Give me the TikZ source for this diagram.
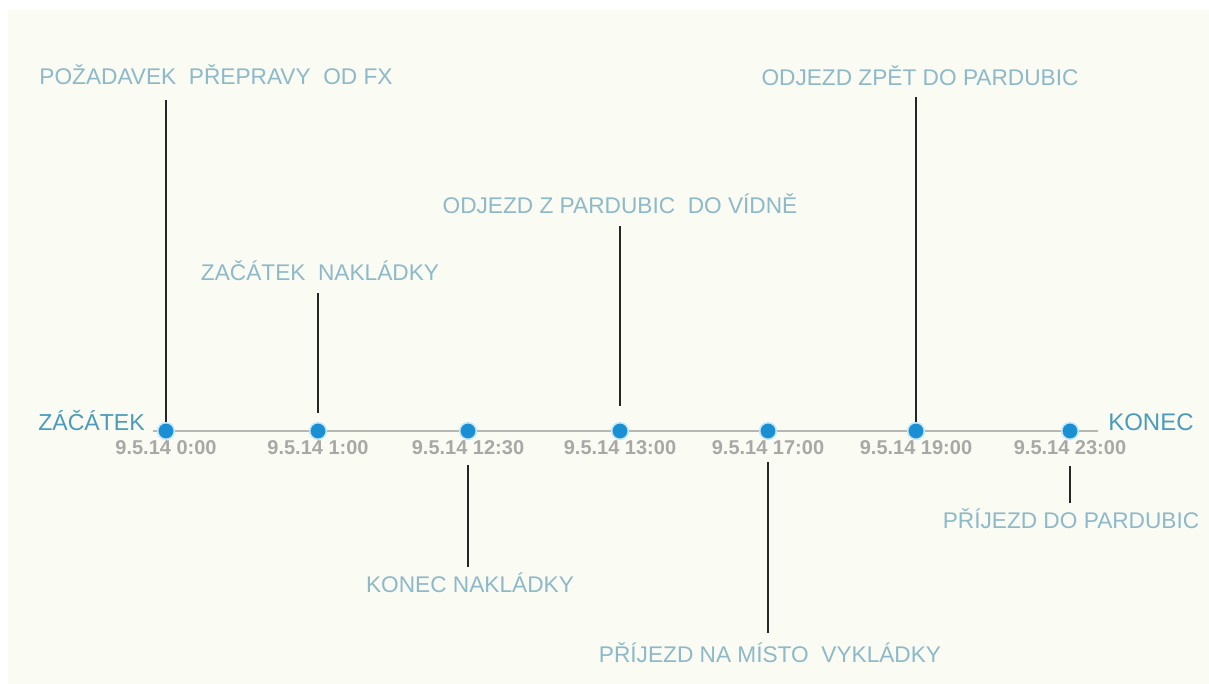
\documentclass[tikz,border=0pt]{standalone}
\usepackage{fontspec}
\setmainfont{Liberation Sans}
\definecolor{paper}{HTML}{FAFBF3}
\definecolor{labelblue}{HTML}{8DB9C8}
\definecolor{endblue}{HTML}{4A9CBA}
\definecolor{dotblue}{HTML}{1A8FD3}
\definecolor{halo}{HTML}{C4E8F8}
\definecolor{dategray}{HTML}{A8A8A6}
\definecolor{axisgray}{HTML}{B6B6B2}
\begin{document}
\begin{tikzpicture}[x=0.75pt,y=-0.75pt,
	event/.style={text=labelblue,font=\fontsize{17}{19}\selectfont,inner sep=0pt,anchor=base},
	datum/.style={text=dategray,font=\bfseries\fontsize{15}{17}\selectfont,inner sep=0pt,anchor=base},
	tick/.style={circle,fill=dotblue,draw=halo,line width=1.2pt,minimum size=12.5pt,inner sep=0pt},
	stem/.style={line width=1.6pt,black!85}]
	
	\useasboundingbox (0,0) rectangle (1209,684);
	\fill[white] (0,0) rectangle (1209,684);
	\fill[paper] (8,10) rectangle (1209,684);
	
	\coordinate (a) at (153,431);
	\coordinate (b) at (1098,431);
	\draw[axisgray,line width=1.5pt] (a) -- (b);
	
	\node[text=endblue,font=\fontsize{17.3}{20}\selectfont,inner sep=0pt,anchor=base east] (start) at (145,430) {ZÁČÁTEK};
	\node[text=endblue,font=\fontsize{18}{20}\selectfont,inner sep=0pt,anchor=base west] (end) at (1108,430) {KONEC};
	
	\foreach \i/\x/\t in {0/166/0:00,1/318/1:00,2/468/12:30,3/620/13:00,4/768/17:00,5/916/19:00,6/1070/23:00}
	{
		\node[tick] (t\i) at (\x,431) {};
		\node[datum] (d\i) at (\x,454) {9.5.14 \t};
	}
	
	% nad osou
	\node[event] (e0) at (216,85) {POŽADAVEK\ \ PŘEPRAVY\ \ OD FX};
	\node[event] (e1) at (320,281) {ZAČÁTEK\ \ NAKLÁDKY};
	\node[event] (e3) at (620,214) {ODJEZD Z PARDUBIC\ \ DO VÍDNĚ};
	\node[event] (e5) at (920,86) {ODJEZD ZPĚT DO PARDUBIC};
	
	% pod osou
	\node[event] (e2) at (470,592) {KONEC NAKLÁDKY};
	\node[event] (e4) at (770,662) {PŘÍJEZD NA MÍSTO\ \ VYKLÁDKY};
	\node[event] (e6) at (1071,528) {PŘÍJEZD DO PARDUBIC};
	
	\draw[stem,shorten <=11pt] (e0.south -| t0) -- (t0.north);
	\draw[stem,shorten <=9pt,shorten >=7pt] (e1.south -| t1) -- (t1.north);
	\draw[stem,shorten <=9pt,shorten >=12pt] (e3.south -| t3) -- (t3.north);
	\draw[stem,shorten <=8pt] (e5.south -| t5) -- (t5.north);
	
	\draw[stem,shorten <=8pt,shorten >=4pt] (d2.south) -- (e2.north -| d2);
	\draw[stem,shorten <=6pt,shorten >=7pt] (d4.south) -- (e4.north -| d4);
	\draw[stem,shorten <=9pt,shorten >=4pt] (d6.south) -- (e6.north -| d6);
	
\end{tikzpicture}
\end{document}
